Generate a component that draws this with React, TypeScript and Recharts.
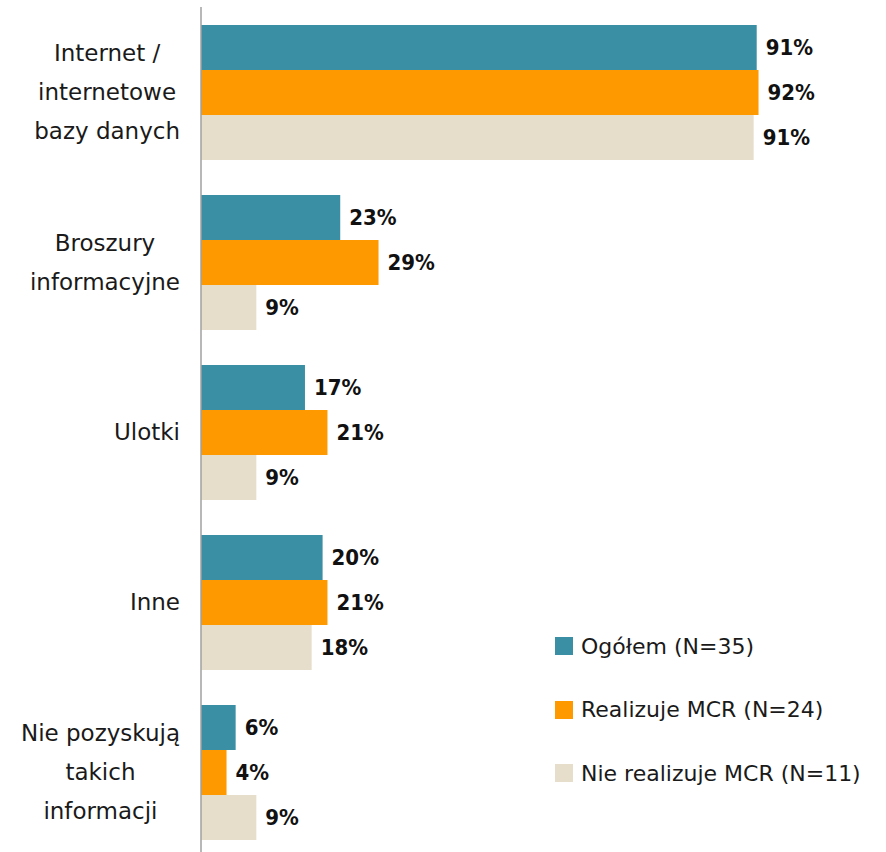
import React from "react";
import { BarChart, Bar, XAxis, YAxis, LabelList } from "recharts";

const categories = [
  "Internet /\ninternetowe\nbazy danych",
  "Broszury\ninformacyjne",
  "Ulotki",
  "Inne",
  "Nie pozyskują\ntakich\ninformacji",
];
const seriesNames = ["Ogółem (N=35)", "Realizuje MCR (N=24)", "Nie realizuje MCR (N=11)"];
const seriesColors = ["#3A8FA5", "#FF9900", "#E6DECB"];
const ogolem = [91.4, 22.9, 17.1, 20.0, 5.7];
const realizuje = [91.7, 29.2, 20.8, 20.8, 4.2];
const nieRealizuje = [90.9, 9.1, 9.1, 18.2, 9.1];

const chartData = categories.map((name, i) => ({
  name,
  s0: ogolem[i],
  s1: realizuje[i],
  s2: nieRealizuje[i],
}));

const FONT = "'DejaVu Sans', Verdana, sans-serif";
const LABEL_FONT = "'DejaVu Sans Condensed', 'DejaVu Sans', sans-serif";
const TICK_SIZE = 23;

let ctx: CanvasRenderingContext2D | null = null;
function textWidth(s: string) {
  if (!ctx) ctx = document.createElement("canvas").getContext("2d");
  if (!ctx) return s.length * 12;
  ctx.font = `${TICK_SIZE}px 'DejaVu Sans'`;
  return ctx.measureText(s).width;
}

function CategoryTick(props: any) {
  const { y, payload } = props;
  const lines: string[] = String(payload.value).split("\n");
  const maxW = Math.max(...lines.map(textWidth));
  const cx = 180 - maxW / 2;
  const lh = 39;
  return (
    <g>
      {lines.map((l, i) => (
        <text
          key={i}
          x={cx}
          y={y + (i - (lines.length - 1) / 2) * lh}
          textAnchor="middle"
          dominantBaseline="central"
          fontFamily={FONT}
          fontSize={TICK_SIZE}
          fill="#1a1a1a"
        >
          {l}
        </text>
      ))}
    </g>
  );
}

const fmt = (v: any) => `${Math.round(Number(v))}%`;

export default function App() {
  return (
    <div style={{ position: "absolute", left: 0, top: 0, width: 886, height: 852, overflow: "hidden", background: "#fff" }}>
      <BarChart
        width={886}
        height={857}
        data={chartData}
        layout="vertical"
        margin={{ top: 7, right: 77, left: 0, bottom: 0 }}
        barCategoryGap={18}
        barGap={0}
      >
        <XAxis type="number" domain={[0, 100]} hide />
        <YAxis
          type="category"
          dataKey="name"
          width={201}
          tickLine={false}
          axisLine={{ stroke: "#A0A0A0", strokeWidth: 1.5 }}
          tick={<CategoryTick />}
          interval={0}
        />
        {["s0", "s1", "s2"].map((k, i) => (
          <Bar key={k} dataKey={k} fill={seriesColors[i]} isAnimationActive={false}>
            <LabelList
              dataKey={k}
              position="right"
              offset={9}
              formatter={fmt}
              style={{ fontFamily: LABEL_FONT, fontSize: 22, fontWeight: "bold", fill: "#111" }}
            />
          </Bar>
        ))}
      </BarChart>
      <div style={{ position: "absolute", left: 555, top: 627, fontFamily: FONT, fontSize: 22, color: "#1a1a1a" }}>
        {seriesNames.map((n, i) => (
          <div key={n} style={{ display: "flex", alignItems: "center", height: 38, marginBottom: i < 2 ? 25.5 : 0 }}>
            <span style={{ display: "inline-block", width: 18, height: 18, background: seriesColors[i], marginRight: 8 }} />
            <span>{n}</span>
          </div>
        ))}
      </div>
    </div>
  );
}
